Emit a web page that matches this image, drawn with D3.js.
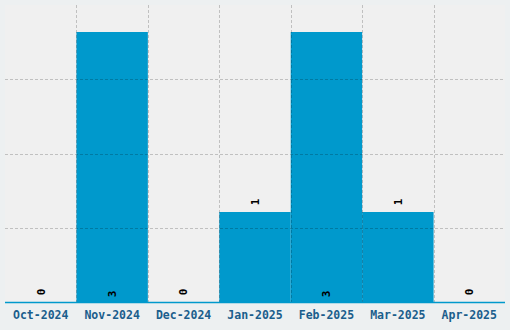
<!DOCTYPE html>
<html>
<head>
<meta charset="utf-8">
<script src="https://cdn.jsdelivr.net/npm/d3@7"></script>
<style>
  body { margin: 0; background: #edf0f1; }
  svg { display: block; }
  text { font-family: "DejaVu Sans Mono", "Liberation Mono", monospace; font-weight: bold; }
</style>
</head>
<body>
<svg id="chart" width="510" height="330"></svg>
<script>
var months = ["Oct-2024", "Nov-2024", "Dec-2024", "Jan-2025", "Feb-2025", "Mar-2025", "Apr-2025"];
var counts = [0, 3, 0, 1, 3, 1, 0];

var width = 510, height = 330;
var plot = { left: 5, right: 505, top: 5, bottom: 302 };

var svg = d3.select("#chart");

svg.append("rect")
  .attr("width", width)
  .attr("height", height)
  .attr("fill", "#edf0f1");

svg.append("rect")
  .attr("x", plot.left)
  .attr("y", plot.top)
  .attr("width", plot.right - plot.left)
  .attr("height", plot.bottom - plot.top)
  .attr("fill", "#f0f0f0");

var x = d3.scaleBand()
  .domain(months)
  .range([plot.left, plot.right])
  .padding(0);

var y = d3.scaleLinear()
  .domain([0, d3.max(counts) * 1.1])
  .range([plot.bottom, plot.top]);

// bars
svg.append("g")
  .selectAll("rect")
  .data(counts)
  .enter()
  .append("rect")
  .attr("x", (d, i) => x(months[i]))
  .attr("y", d => y(d))
  .attr("width", x.bandwidth())
  .attr("height", d => plot.bottom - y(d))
  .attr("fill", "#0099cc");

// grid, drawn over the bars
var grid = svg.append("g")
  .attr("stroke", "rgba(0,0,0,0.2)")
  .attr("stroke-dasharray", "3,2");

var yDom = y.domain()[1];
grid.selectAll("line.h")
  .data([1, 2, 3].map(k => yDom * k / 4))
  .enter()
  .append("line")
  .attr("class", "h")
  .attr("x1", plot.left)
  .attr("x2", plot.right)
  .attr("y1", d => Math.round(y(d)) + 0.5)
  .attr("y2", d => Math.round(y(d)) + 0.5);

grid.selectAll("line.v")
  .data(months.slice(1))
  .enter()
  .append("line")
  .attr("class", "v")
  .attr("x1", d => Math.round(x(d)) + 0.5)
  .attr("x2", d => Math.round(x(d)) + 0.5)
  .attr("y1", plot.top)
  .attr("y2", plot.bottom);

// baseline
svg.append("line")
  .attr("x1", plot.left)
  .attr("x2", plot.right)
  .attr("y1", plot.bottom + 0.5)
  .attr("y2", plot.bottom + 0.5)
  .attr("stroke", "#0099cc")
  .attr("stroke-width", 1.5);

// value labels (rotated)
svg.append("g")
  .selectAll("text")
  .data(counts)
  .enter()
  .append("text")
  .attr("transform", function (d, i) {
    var cx = x(months[i]) + x.bandwidth() / 2;
    var cy = d >= 3 ? plot.bottom - 8 : y(d) - 10;
    return "translate(" + cx + "," + cy + ") rotate(-90)";
  })
  .attr("text-anchor", "middle")
  .attr("dy", "0.35em")
  .attr("font-size", 11)
  .attr("fill", "#000")
  .text(d => d);

// x axis labels
svg.append("g")
  .selectAll("text")
  .data(months)
  .enter()
  .append("text")
  .attr("x", d => x(d) + x.bandwidth() / 2)
  .attr("y", 319)
  .attr("text-anchor", "middle")
  .attr("font-size", 11.5)
  .attr("fill", "#1b5e8c")
  .text(d => d);
</script>
</body>
</html>
